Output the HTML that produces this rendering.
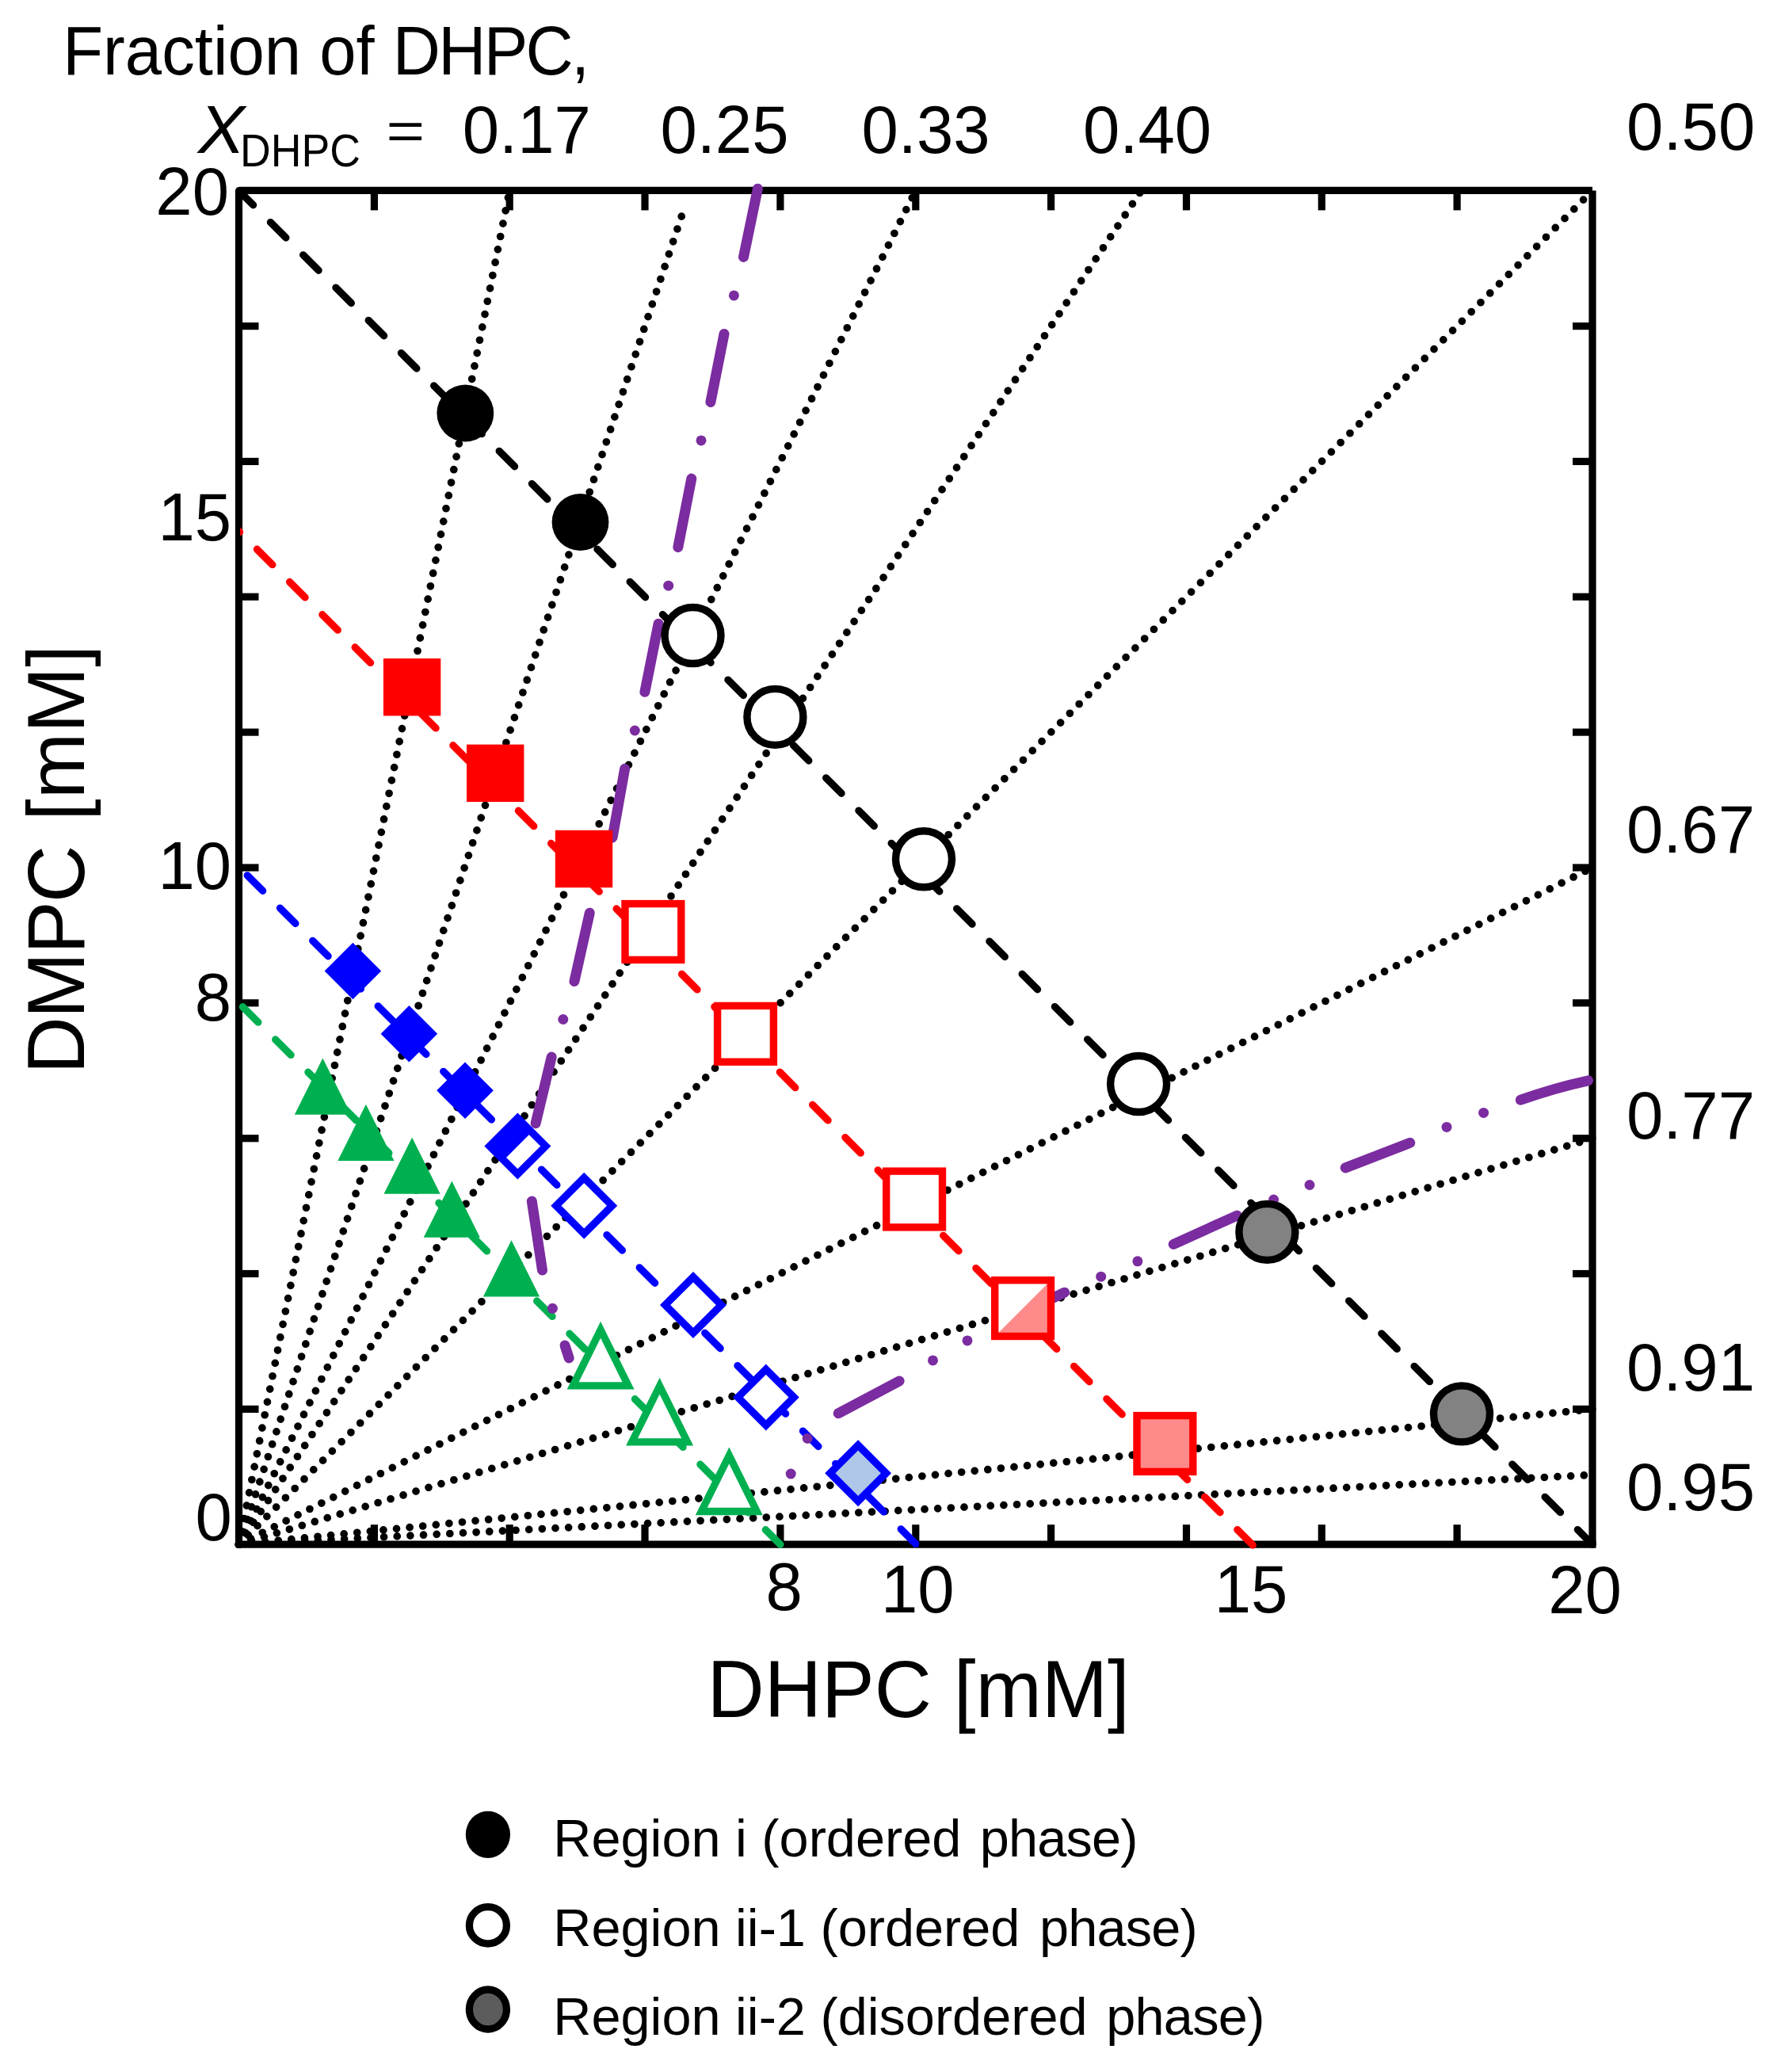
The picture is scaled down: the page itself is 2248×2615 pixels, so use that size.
<!DOCTYPE html>
<html><head><meta charset="utf-8"><title>DMPC/DHPC phase diagram</title>
<style>html,body{margin:0;padding:0;background:#fff}svg{display:block}text{font-family:"Liberation Sans",Arial,sans-serif;fill:#000}</style></head><body>
<svg width="2248" height="2615" viewBox="0 0 2248 2615">
<rect width="2248" height="2615" fill="#fff"/>
<g stroke="#000" stroke-width="9.2" fill="none" stroke-linecap="butt">
<line x1="301.5" y1="240.4" x2="2010.0" y2="240.4"/>
<line x1="301.5" y1="240.4" x2="301.5" y2="1949.2"/>
<line x1="301.5" y1="1949.2" x2="2014.6" y2="1949.2"/>
<line x1="2010.0" y1="240.4" x2="2010.0" y2="1949.2"/>
<line x1="472.4" y1="240.4" x2="472.4" y2="265.4"/>
<line x1="472.4" y1="1949.2" x2="472.4" y2="1924.2"/>
<line x1="301.5" y1="1778.4" x2="326.5" y2="1778.4"/>
<line x1="2010.0" y1="1778.4" x2="1985.0" y2="1778.4"/>
<line x1="643.2" y1="240.4" x2="643.2" y2="265.4"/>
<line x1="643.2" y1="1949.2" x2="643.2" y2="1924.2"/>
<line x1="301.5" y1="1607.5" x2="326.5" y2="1607.5"/>
<line x1="2010.0" y1="1607.5" x2="1985.0" y2="1607.5"/>
<line x1="814.0" y1="240.4" x2="814.0" y2="265.4"/>
<line x1="814.0" y1="1949.2" x2="814.0" y2="1924.2"/>
<line x1="301.5" y1="1436.7" x2="326.5" y2="1436.7"/>
<line x1="2010.0" y1="1436.7" x2="1985.0" y2="1436.7"/>
<line x1="984.9" y1="240.4" x2="984.9" y2="265.4"/>
<line x1="984.9" y1="1949.2" x2="984.9" y2="1924.2"/>
<line x1="301.5" y1="1265.8" x2="326.5" y2="1265.8"/>
<line x1="2010.0" y1="1265.8" x2="1985.0" y2="1265.8"/>
<line x1="1155.8" y1="240.4" x2="1155.8" y2="265.4"/>
<line x1="1155.8" y1="1949.2" x2="1155.8" y2="1924.2"/>
<line x1="301.5" y1="1095.0" x2="326.5" y2="1095.0"/>
<line x1="2010.0" y1="1095.0" x2="1985.0" y2="1095.0"/>
<line x1="1326.6" y1="240.4" x2="1326.6" y2="265.4"/>
<line x1="1326.6" y1="1949.2" x2="1326.6" y2="1924.2"/>
<line x1="301.5" y1="924.1" x2="326.5" y2="924.1"/>
<line x1="2010.0" y1="924.1" x2="1985.0" y2="924.1"/>
<line x1="1497.5" y1="240.4" x2="1497.5" y2="265.4"/>
<line x1="1497.5" y1="1949.2" x2="1497.5" y2="1924.2"/>
<line x1="301.5" y1="753.2" x2="326.5" y2="753.2"/>
<line x1="2010.0" y1="753.2" x2="1985.0" y2="753.2"/>
<line x1="1668.3" y1="240.4" x2="1668.3" y2="265.4"/>
<line x1="1668.3" y1="1949.2" x2="1668.3" y2="1924.2"/>
<line x1="301.5" y1="582.4" x2="326.5" y2="582.4"/>
<line x1="2010.0" y1="582.4" x2="1985.0" y2="582.4"/>
<line x1="1839.1" y1="240.4" x2="1839.1" y2="265.4"/>
<line x1="1839.1" y1="1949.2" x2="1839.1" y2="1924.2"/>
<line x1="301.5" y1="411.6" x2="326.5" y2="411.6"/>
<line x1="2010.0" y1="411.6" x2="1985.0" y2="411.6"/>
</g>
<g stroke="#000" stroke-width="9.7" fill="none" stroke-linecap="round" stroke-dasharray="0 16.667">
<line x1="301.5" y1="1949.2" x2="643.2" y2="240.7"/>
<line x1="301.5" y1="1949.2" x2="864.2" y2="261.2"/>
<line x1="301.5" y1="1949.2" x2="1155.8" y2="240.7"/>
<line x1="301.5" y1="1949.2" x2="1440.5" y2="240.7"/>
<line x1="301.5" y1="1949.2" x2="2010.0" y2="240.7"/>
<line x1="301.5" y1="1949.2" x2="2010.0" y2="1095.0"/>
<line x1="301.5" y1="1949.2" x2="2010.0" y2="1436.7"/>
<line x1="301.5" y1="1949.2" x2="2010.0" y2="1778.4"/>
<line x1="301.5" y1="1949.2" x2="2010.0" y2="1861.4"/>
</g>
<clipPath id="pc"><rect x="303.1" y="230.4" width="1728.5" height="1748.8"/></clipPath>
<line x1="301.50" y1="1265.80" x2="984.9" y2="1949.2" stroke="#00B050" stroke-width="9.2" stroke-linecap="round" stroke-dasharray="27.6 30.733" stroke-dashoffset="51.43" fill="none"/>
<line x1="301.50" y1="1094.15" x2="1155.8" y2="1948.4" stroke="#0000FF" stroke-width="9.2" stroke-linecap="round" stroke-dasharray="27.6 30.733" stroke-dashoffset="43.23" fill="none"/>
<line x1="273.22" y1="642.04" x2="1582.9" y2="1951.7" stroke="#FF0000" stroke-width="9.2" stroke-linecap="round" stroke-dasharray="27.6 30.733" stroke-dashoffset="44.37" fill="none" clip-path="url(#pc)"/>
<line x1="301.50" y1="240.70" x2="2010.0" y2="1949.2" stroke="#000000" stroke-width="9.2" stroke-linecap="round" stroke-dasharray="27.6 30.733" stroke-dashoffset="1.93" fill="none"/>
<g stroke="#7B2CA0" stroke-width="13.0" stroke-linecap="round" fill="#7B2CA0">
<line x1="956.4" y1="238.2" x2="938.5" y2="324.4"/>
<line x1="914.0" y1="421.4" x2="896.9" y2="507.5"/>
<line x1="872.8" y1="604.1" x2="855.8" y2="690.7"/>
<line x1="831.1" y1="787.2" x2="813.9" y2="873.3"/>
<line x1="788.6" y1="970.3" x2="773.1" y2="1056.9"/>
<line x1="744.3" y1="1152.2" x2="724.9" y2="1238.6"/>
<line x1="696.2" y1="1334.1" x2="676.1" y2="1417.7"/>
<line x1="671.3" y1="1516.1" x2="684.5" y2="1603.1"/>
<line x1="713.0" y1="1698.0" x2="718.2" y2="1713.9"/>
<line x1="1058.2" y1="1783.8" x2="1135.1" y2="1742.9"/>
<line x1="1264.4" y1="1669.2" x2="1343.7" y2="1631.2"/>
<line x1="1481.2" y1="1570.3" x2="1561.4" y2="1534.1"/>
<line x1="1698.2" y1="1473.9" x2="1779.8" y2="1442.3"/>
<path d="M1919.3 1388.2 Q1962 1373.0 2004.6 1363.8" fill="none"/>
<circle cx="926.4" cy="372.9" r="6.5" stroke="none"/>
<circle cx="885" cy="555.9" r="6.5" stroke="none"/>
<circle cx="843.7" cy="739.2" r="6.5" stroke="none"/>
<circle cx="801.3" cy="922" r="6.5" stroke="none"/>
<circle cx="710.8" cy="1286.5" r="6.5" stroke="none"/>
<circle cx="697.4" cy="1651.3" r="6.5" stroke="none"/>
<circle cx="998.2" cy="1860.1" r="6.5" stroke="none"/>
<circle cx="1019.2" cy="1815.4" r="6.5" stroke="none"/>
<circle cx="1177.5" cy="1716.9" r="6.5" stroke="none"/>
<circle cx="1221" cy="1691.9" r="6.5" stroke="none"/>
<circle cx="1389.7" cy="1611.2" r="6.5" stroke="none"/>
<circle cx="1435.9" cy="1591.8" r="6.5" stroke="none"/>
<circle cx="1607.6" cy="1514.1" r="6.5" stroke="none"/>
<circle cx="1653" cy="1495.5" r="6.5" stroke="none"/>
<circle cx="1826" cy="1422.4" r="6.5" stroke="none"/>
<circle cx="1872.6" cy="1404.4" r="6.5" stroke="none"/>
</g>
<circle cx="587.3" cy="521.5" r="35.9" fill="#000"/>
<circle cx="732.5" cy="659" r="35.9" fill="#000"/>
<circle cx="874.5" cy="802" r="35.5" fill="#fff" stroke="#000" stroke-width="9.4"/>
<circle cx="978.4" cy="904.9" r="35.5" fill="#fff" stroke="#000" stroke-width="9.4"/>
<circle cx="1166" cy="1084.2" r="35.5" fill="#fff" stroke="#000" stroke-width="9.4"/>
<circle cx="1437.1" cy="1368" r="35.5" fill="#fff" stroke="#000" stroke-width="9.4"/>
<circle cx="1599.4" cy="1554.9" r="35.5" fill="#828282" stroke="#000" stroke-width="9.4"/>
<circle cx="1845" cy="1784.4" r="35.5" fill="#828282" stroke="#000" stroke-width="9.4"/>
<rect x="483.9" y="831.0" width="72.4" height="72.4" fill="#FF0000"/>
<rect x="589.0" y="939.6" width="72.4" height="72.4" fill="#FF0000"/>
<rect x="700.8" y="1047.8" width="72.4" height="72.4" fill="#FF0000"/>
<rect x="789.0" y="1140.6" width="70.8" height="70.8" fill="#fff" stroke="none"/>
<rect x="789.0" y="1140.6" width="70.8" height="70.8" fill="none" stroke="#FF0000" stroke-width="9.4"/>
<rect x="905.6" y="1269.4" width="70.8" height="70.8" fill="#fff" stroke="none"/>
<rect x="905.6" y="1269.4" width="70.8" height="70.8" fill="none" stroke="#FF0000" stroke-width="9.4"/>
<rect x="1118.7" y="1478.1" width="70.8" height="70.8" fill="#fff" stroke="none"/>
<rect x="1118.7" y="1478.1" width="70.8" height="70.8" fill="none" stroke="#FF0000" stroke-width="9.4"/>
<rect x="1255.7" y="1615.7" width="70.8" height="70.8" fill="#fff" stroke="none"/>
<polygon points="1326.5,1615.7 1326.5,1686.5 1255.7,1686.5" fill="#FF8A8A"/>
<rect x="1255.7" y="1615.7" width="70.8" height="70.8" fill="none" stroke="#FF0000" stroke-width="9.4"/>
<rect x="1435.0" y="1786.6" width="70.8" height="70.8" fill="#FF8A8A" stroke="none"/>
<rect x="1435.0" y="1786.6" width="70.8" height="70.8" fill="none" stroke="#FF0000" stroke-width="9.4"/>
<polygon points="445.4,1189.7 481.2,1225.5 445.4,1261.3 409.6,1225.5" fill="#0000FF"/>
<polygon points="516.4,1269.0 552.2,1304.8 516.4,1340.6 480.6,1304.8" fill="#0000FF"/>
<polygon points="587.0,1340.4 622.8,1376.2 587.0,1412.0 551.2,1376.2" fill="#0000FF"/>
<polygon points="653.4,1411.2 688.8,1446.5 653.4,1481.8 618.0,1446.5" fill="#fff"/>
<polygon points="618.0,1446.5 653.4,1411.2 671.1,1428.8 635.7,1464.2" fill="#0000FF"/>
<polygon points="653.4,1411.2 688.8,1446.5 653.4,1481.8 618.0,1446.5" fill="none" stroke="#0000FF" stroke-width="9.4" stroke-linejoin="miter"/>
<polygon points="737.2,1486.4 772.6,1521.7 737.2,1557.0 701.9,1521.7" fill="#fff"/>
<polygon points="737.2,1486.4 772.6,1521.7 737.2,1557.0 701.9,1521.7" fill="none" stroke="#0000FF" stroke-width="9.4" stroke-linejoin="miter"/>
<polygon points="875.0,1611.7 910.4,1647.0 875.0,1682.3 839.6,1647.0" fill="#fff"/>
<polygon points="875.0,1611.7 910.4,1647.0 875.0,1682.3 839.6,1647.0" fill="none" stroke="#0000FF" stroke-width="9.4" stroke-linejoin="miter"/>
<polygon points="966.8,1728.2 1002.1,1763.5 966.8,1798.8 931.4,1763.5" fill="#fff"/>
<polygon points="966.8,1728.2 1002.1,1763.5 966.8,1798.8 931.4,1763.5" fill="none" stroke="#0000FF" stroke-width="9.4" stroke-linejoin="miter"/>
<polygon points="1083.1,1823.9 1118.4,1859.2 1083.1,1894.5 1047.8,1859.2" fill="#AEC7E8"/>
<polygon points="1083.1,1823.9 1118.4,1859.2 1083.1,1894.5 1047.8,1859.2" fill="none" stroke="#0000FF" stroke-width="9.4" stroke-linejoin="miter"/>
<polygon points="407.4,1335.6 443.0,1406.8 371.8,1406.8" fill="#00B050"/>
<polygon points="461.9,1393.8 497.5,1465.0 426.3,1465.0" fill="#00B050"/>
<polygon points="520.1,1435.6 555.7,1506.8 484.5,1506.8" fill="#00B050"/>
<polygon points="570.3,1490.5 605.9,1561.7 534.7,1561.7" fill="#00B050"/>
<polygon points="645.5,1565.3 681.1,1636.5 609.9,1636.5" fill="#00B050"/>
<polygon points="758.1,1678.3 793.1,1748.9 723.1,1748.9" fill="#fff" stroke="#00B050" stroke-width="9.3" stroke-linejoin="miter" stroke-miterlimit="10"/>
<polygon points="832.6,1749.2 867.6,1819.8 797.6,1819.8" fill="#fff" stroke="#00B050" stroke-width="9.3" stroke-linejoin="miter" stroke-miterlimit="10"/>
<polygon points="920.3,1836.9 955.3,1907.5 885.3,1907.5" fill="#fff" stroke="#00B050" stroke-width="9.3" stroke-linejoin="miter" stroke-miterlimit="10"/>
<text transform="translate(79.2 93.6) scale(1.0 1.045)" font-size="83.3px" text-anchor="start">Fraction of <tspan letter-spacing="-2.7">DHPC,</tspan></text>
<text transform="translate(250.0 193.3) scale(1.06 1.03)" font-size="83.3px" text-anchor="start" font-style="italic">X</text>
<text transform="translate(303.0 210.4) scale(1.0 1.06)" font-size="53.6px" text-anchor="start">DHPC</text>
<text transform="translate(487.4 188.2) scale(1.0 0.8)" font-size="83.3px" text-anchor="start">=</text>
<text transform="translate(583.8 193.3) scale(1.0 1.03)" font-size="83.3px" text-anchor="start">0.17</text>
<text transform="translate(833.4 193.3) scale(1.0 1.03)" font-size="83.3px" text-anchor="start">0.25</text>
<text transform="translate(1087.5 193.3) scale(1.0 1.03)" font-size="83.3px" text-anchor="start">0.33</text>
<text transform="translate(1367.0 193.3) scale(1.0 1.03)" font-size="83.3px" text-anchor="start">0.40</text>
<text transform="translate(2053.1 189.0) scale(1.0 1.03)" font-size="83.3px" text-anchor="start">0.50</text>
<text transform="translate(2052.9 1075.9) scale(1.0 1.03)" font-size="83.3px" text-anchor="start">0.67</text>
<text transform="translate(2052.9 1437.3) scale(1.0 1.03)" font-size="83.3px" text-anchor="start">0.77</text>
<text transform="translate(2052.9 1754.8) scale(1.0 1.03)" font-size="83.3px" text-anchor="start">0.91</text>
<text transform="translate(2052.9 1906.4) scale(1.0 1.03)" font-size="83.3px" text-anchor="start">0.95</text>
<text transform="translate(289.0 270.5) scale(1.0 1.03)" font-size="83.3px" text-anchor="end">20</text>
<text transform="translate(292.1 682.0) scale(1.0 1.03)" font-size="83.3px" text-anchor="end">15</text>
<text transform="translate(292.1 1121.6) scale(1.0 1.03)" font-size="83.3px" text-anchor="end">10</text>
<text transform="translate(292.1 1287.5) scale(1.0 1.03)" font-size="83.3px" text-anchor="end">8</text>
<text transform="translate(292.8 1944) scale(1.0 1.03)" font-size="83.3px" text-anchor="end">0</text>
<text transform="translate(989.6 2031.8) scale(1.0 1.03)" font-size="83.3px" text-anchor="middle">8</text>
<text transform="translate(1158.2 2035.3) scale(1.0 1.03)" font-size="83.3px" text-anchor="middle">10</text>
<text transform="translate(1579.0 2035.3) scale(1.0 1.03)" font-size="83.3px" text-anchor="middle">15</text>
<text transform="translate(2000.5 2035.8) scale(1.0 1.03)" font-size="83.3px" text-anchor="middle">20</text>
<text transform="translate(892.6 2166.5) scale(1.0 1.02)" font-size="100px" text-anchor="start">DHPC [mM]</text>
<text transform="translate(106.1 1355.6) rotate(-90) scale(1 1.02)" font-size="100px"><tspan letter-spacing="-1.9">DMPC</tspan><tspan dx="5.0"> [mM]</tspan></text>
<ellipse cx="615.9" cy="2315.3" rx="28.1" ry="29.6" fill="#000"/>
<ellipse cx="615.9" cy="2429.9" rx="23.5" ry="23.2" fill="#fff" stroke="#000" stroke-width="9.3"/>
<ellipse cx="615.9" cy="2536" rx="23.5" ry="25" fill="#5C5C5C" stroke="#000" stroke-width="9.3"/>
<g font-size="66.67px">
<text x="698.3" y="2343.4">Region i (ordered <tspan dx="5" letter-spacing="-0.85">phase)</tspan></text>
<text x="698.3" y="2456.1">Region ii-1 (ordered <tspan dx="6" letter-spacing="-0.8">phase)</tspan></text>
<text x="698.3" y="2568.2">Region ii-2 (disordered <tspan dx="5" letter-spacing="-0.7">phase)</tspan></text>
</g>
</svg></body></html>
